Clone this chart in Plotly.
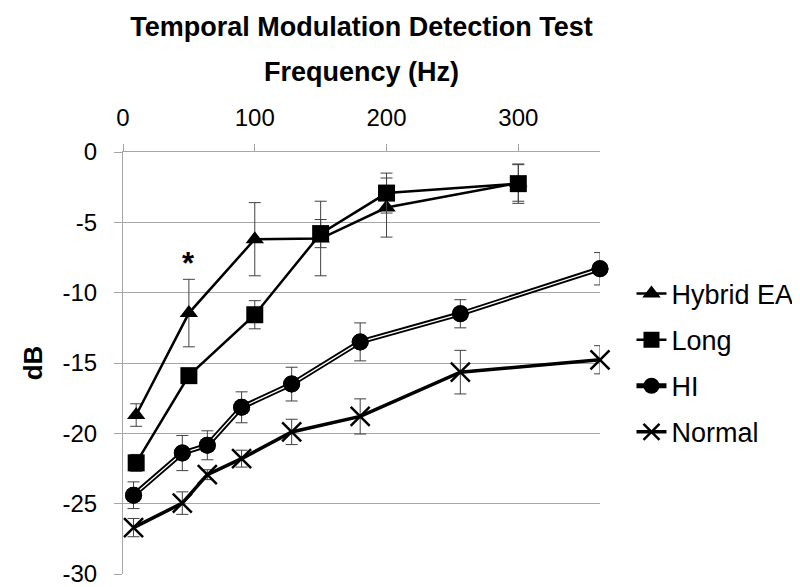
import plotly.graph_objects as go

# ---- data ----
freq_ci = [10, 50, 100, 150, 200, 300]
hybrid_ea = [-18.7, -11.45, -6.2, -6.15, -3.95, -2.2]
hybrid_ea_err = [0.8, 2.4, 2.6, 2.65, 2.1, 1.3]
long_ci = [-22.1, -15.9, -11.57, -5.8, -2.92, -2.25]
long_ci_err = [0.6, 0.5, 1.0, 1.0, 1.42, 1.4]

freq_nh = [8, 45, 64, 90, 128, 180, 256, 362]
hi = [-24.4, -21.4, -20.85, -18.15, -16.5, -13.5, -11.5, -8.3]
hi_err = [0.95, 1.25, 1.03, 1.1, 1.2, 1.35, 1.0, 1.15]
normal = [-26.7, -24.96, -22.94, -21.8, -19.9, -18.8, -15.65, -14.77]
normal_err = [0.65, 0.8, 0.35, 0.6, 0.9, 1.25, 1.55, 1.0]

x_ticks = [0, 100, 200, 300]
y_ticks = [0, -5, -10, -15, -20, -25, -30]

FONT = "Arial, Liberation Sans, sans-serif"
GRID = "#a6a6a6"
ERRC = "#404040"


def err(vals):
    return dict(type="data", array=vals, visible=True, color=ERRC,
                thickness=1, width=6)


fig = go.Figure()

fig.add_trace(go.Scatter(
    x=freq_ci, y=hybrid_ea, name="Hybrid EA", mode="lines+markers",
    line=dict(color="black", width=2.5),
    marker=dict(symbol="triangle-up", size=16, color="black"),
    error_y=err(hybrid_ea_err), cliponaxis=False, legendgroup="a"))

fig.add_trace(go.Scatter(
    x=freq_ci, y=long_ci, name="Long", mode="lines+markers",
    line=dict(color="black", width=2.5),
    marker=dict(symbol="square", size=17, color="black"),
    error_y=err(long_ci_err), cliponaxis=False, legendgroup="b"))

fig.add_trace(go.Scatter(
    x=freq_nh, y=hi, name="HI", mode="lines+markers",
    line=dict(color="black", width=5),
    marker=dict(symbol="circle", size=17, color="black"),
    error_y=err(hi_err), cliponaxis=False, legendgroup="c"))
# white inner stroke for the double line
fig.add_trace(go.Scatter(
    x=freq_nh, y=hi, mode="lines", showlegend=False, hoverinfo="skip",
    line=dict(color="white", width=1.3), cliponaxis=False, legendgroup="c"))
# redraw HI markers on top of the white stroke
fig.add_trace(go.Scatter(
    x=freq_nh, y=hi, mode="markers", showlegend=False, hoverinfo="skip",
    marker=dict(symbol="circle", size=17, color="black"),
    cliponaxis=False, legendgroup="c"))

fig.add_trace(go.Scatter(
    x=freq_nh, y=normal, name="Normal", mode="lines+markers",
    line=dict(color="black", width=3.5),
    marker=dict(symbol="x-thin", size=19, color="black",
                line=dict(color="black", width=2.5)),
    error_y=err(normal_err), cliponaxis=False, legendgroup="d"))

fig.add_annotation(x=50, y=-7.9, text="<b>*</b>", showarrow=False,
                   font=dict(family=FONT, size=31, color="black"),
                   xanchor="center", yanchor="middle")

fig.update_layout(
    width=800, height=587,
    margin=dict(l=115, r=208, t=144, b=21, autoexpand=False),
    paper_bgcolor="white", plot_bgcolor="white",
    font=dict(family=FONT, color="black"),
    title=dict(text="<b>Temporal Modulation Detection Test</b>",
               x=0.5, xref="paper", xanchor="center",
               y=1 - 19 / 587, yref="container", yanchor="middle",
               font=dict(size=27, family=FONT, color="black")),
    showlegend=True,
    legend=dict(x=1.066, xanchor="left", y=0.5, yanchor="middle",
                font=dict(size=27, family=FONT, color="black"),
                tracegroupgap=8, traceorder="grouped",
                bgcolor="rgba(0,0,0,0)", itemwidth=30),
    xaxis=dict(side="top", range=[0, 362], tickmode="array",
               tickvals=x_ticks, ticktext=[str(v) for v in x_ticks],
               ticks="outside", ticklen=7, tickcolor=GRID, tickwidth=1,
               showgrid=False, zeroline=False, automargin=False,
               showline=True, linecolor=GRID, linewidth=1,
               tickfont=dict(size=24, family=FONT, color="black"),
               ticklabelstandoff=8,
               title=dict(text="<b>Frequency (Hz)</b>", standoff=14,
                          font=dict(size=27, family=FONT, color="black"))),
    yaxis=dict(range=[-30, 0], tickmode="array", tickvals=y_ticks,
               ticktext=[str(v) for v in y_ticks],
               ticks="outside", ticklen=8, tickcolor=GRID, tickwidth=1,
               showgrid=True, gridcolor=GRID, gridwidth=1,
               zeroline=False, automargin=False,
               showline=True, linecolor=GRID, linewidth=1,
               tickfont=dict(size=24, family=FONT, color="black"),
               ticklabelstandoff=12,
               title=dict(text="<b>dB</b>", standoff=12,
                          font=dict(size=26, family=FONT, color="black"))),
)

fig.write_html("out.html")
